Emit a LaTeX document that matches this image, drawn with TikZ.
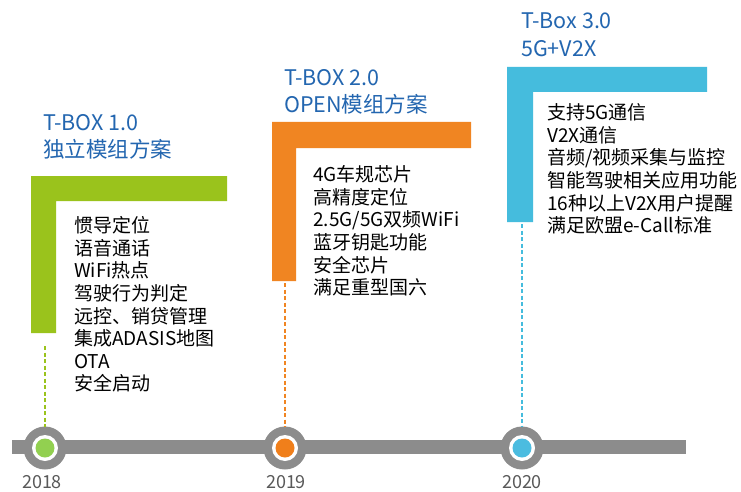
\documentclass[tikz,border=0pt]{standalone}
\usepackage{fontspec}
\setmainfont{Noto Sans CJK SC}
\definecolor{cgreen}{HTML}{9AC31C}
\definecolor{corange}{HTML}{F08522}
\definecolor{cblue}{HTML}{45BCDD}
\definecolor{dgreen}{HTML}{92D050}
\definecolor{dorange}{HTML}{F07F1B}
\definecolor{dblue}{HTML}{4BBCE0}
\definecolor{bargrey}{HTML}{8C8C8C}
\definecolor{titleblue}{HTML}{2366B0}
\definecolor{yeargrey}{HTML}{595959}
\tikzset{
  titletext/.style={anchor=north west, inner sep=0pt, align=left, text=titleblue,
    font=\fontsize{21.5}{27.5}\selectfont},
  bodytext/.style={anchor=north west, inner sep=0pt, align=left, text=black,
    font=\fontsize{19}{22.6}\selectfont},
  yeartext/.style={inner sep=0pt, text=yeargrey, font=\fontsize{18}{20}\selectfont},
  guide/.style={dashed, dash pattern=on 4pt off 2.5pt, line width=1.2pt},
}
\begin{document}
\begin{tikzpicture}[x=1pt,y=-1pt]
\useasboundingbox (0,0) rectangle (741,492);
\fill[white] (0,0) rectangle (741,492);

% L shapes
\fill[cgreen] (31,176) -- (227,176) -- (227,201) -- (56,201) -- (56,333) -- (31,333) -- cycle;
\fill[corange] (272,122) -- (471,122) -- (471,148) -- (296,148) -- (296,281) -- (272,281) -- cycle;
\fill[cblue] (507,67) -- (707,67) -- (707,92) -- (533,92) -- (533,222) -- (507,222) -- cycle;

% timeline bar
\fill[bargrey] (12,440) rectangle (686,454);

% milestones
\foreach \n/\x/\c in {a/45/dgreen, b/285/dorange, c/522/dblue}{
  \fill[bargrey] (\x,448) circle (21.5);
  \fill[white] (\x,448) circle (13);
  \fill[\c] (\x,448) circle (9.5);
  \coordinate (m\n) at (\x,427);
}
\coordinate (ta) at (45,346);
\coordinate (tb) at (285,283);
\coordinate (tc) at (522,224);
\draw[guide, cgreen] (ta) -- (ma);
\draw[guide, corange] (tb) -- (mb);
\draw[guide, cblue] (tc) -- (mc);

% years
\node[yeartext] (y1) at (42,482) {2018};
\node[yeartext] (y2) at (286,482.5) {2019};
\node[yeartext] (y3) at (522,482.5) {2020};

% titles
\node[titletext] (t1) at (43,114) {T-BOX 1.0\\独立模组方案};
\node[titletext] (t2) at (284,69) {T-BOX 2.0\\OPEN模组方案};
\node[titletext] (t3) at (521,13) {T-Box 3.0\\5G+V2X};

% bodies
\node[bodytext] (b1) at (74,216.5) {惯导定位\\语音通话\\WiFi热点\\驾驶行为判定\\远控、销贷管理\\集成ADASIS地图\\OTA\\安全启动};
\node[bodytext] (b2) at (313,165.5) {4G车规芯片\\高精度定位\\2.5G/5G双频WiFi\\蓝牙钥匙功能\\安全芯片\\满足重型国六};
\node[bodytext] (b3) at (547,103.5) {支持5G通信\\V2X通信\\音频/视频采集与监控\\智能驾驶相关应用功能\\16种以上V2X用户提醒\\满足欧盟e-Call标准};
\end{tikzpicture}
\end{document}
